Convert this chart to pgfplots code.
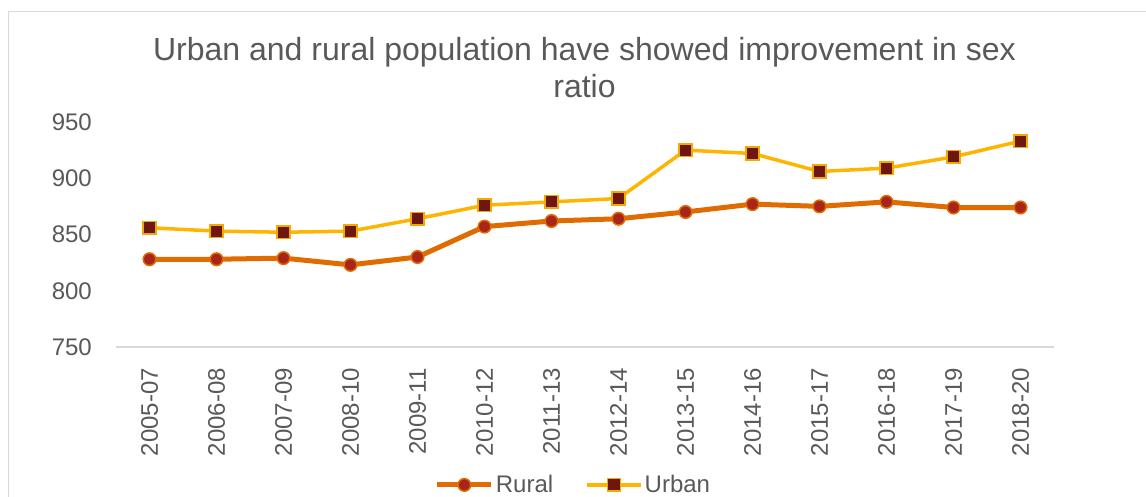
\documentclass[border=0pt]{standalone}
\usepackage{pgfplots}
\pgfplotsset{compat=1.18}
\usepackage{fontspec}
\setmainfont{Liberation Sans}
\definecolor{txtgray}{HTML}{595959}
\definecolor{framegray}{HTML}{D9D9D9}
\definecolor{ruralline}{HTML}{E06B00}
\definecolor{ruralfill}{HTML}{A8251A}
\definecolor{urbanline}{HTML}{FFB500}
\definecolor{urbanfill}{HTML}{6E1610}
\definecolor{urbanedge}{HTML}{F2A900}
\begin{document}
\begin{tikzpicture}[x=1pt,y=1pt]
\useasboundingbox (0,0) rectangle (1146,496);
\clip (0,0) rectangle (1146,496);
\draw[framegray, line width=1.5pt] (8.5,484.5) rectangle (1160,-20);
\node[anchor=base, text=txtgray, font=\fontsize{32}{38}\selectfont, inner sep=0pt] at (584.5,435) {Urban and rural population have showed improvement in sex};
\node[anchor=base, text=txtgray, font=\fontsize{32}{38}\selectfont, inner sep=0pt] at (584.5,398) {ratio};
\begin{axis}[
  at={(116pt,149pt)}, anchor=south west,
  width=938pt, height=225pt, scale only axis,
  xmin=-0.5, xmax=13.5, ymin=750, ymax=950,
  axis x line=bottom, axis y line=left,
  x axis line style={framegray, line width=1.5pt, -},
  y axis line style={draw=none},
  major tick length=0pt,
  xtick={0,...,13},
  xticklabels={2005-07,2006-08,2007-09,2008-10,2009-11,2010-12,2011-13,2012-14,2013-15,2014-16,2015-17,2016-18,2017-19,2018-20},
  ytick={750,800,850,900,950},
  /pgf/number format/assume math mode=true,
  tick label style={font=\fontsize{24}{28}\selectfont, text=txtgray},
  xticklabel style={rotate=90, anchor=east, inner sep=0pt},
  xticklabel shift=21pt,
  yticklabel style={anchor=east, inner sep=0pt},
  yticklabel shift=24pt,
  clip=false,
  legend style={at={(0.4877,-0.613)}, anchor=center, draw=none, fill=none,
    font=\fontsize{24}{28}\selectfont, text=txtgray,
    legend columns=2, /tikz/every even column/.append style={column sep=30pt},
    inner sep=0pt},
  legend cell align=left,
  legend image code/.code={\draw[mark repeat=2,mark phase=2,#1] plot coordinates {(0pt,0pt) (27pt,0pt) (54pt,0pt)};},
]
\addplot[ruralline, line width=5pt, mark=*, mark size=6.3pt,
  mark options={fill=ruralfill, draw=ruralline, line width=1.5pt}]
  coordinates {(0,828) (1,828) (2,829) (3,823) (4,830) (5,857) (6,862) (7,864) (8,870) (9,877) (10,875) (11,879) (12,874) (13,874)};
\addlegendentry{Rural}
\addplot[urbanline, line width=3.5pt, mark=square*, mark size=6.3pt,
  mark options={fill=urbanfill, draw=urbanedge, line width=1.5pt}]
  coordinates {(0,856) (1,853) (2,852) (3,853) (4,864) (5,876) (6,879) (7,882) (8,925) (9,922) (10,906) (11,909) (12,919) (13,933)};
\addlegendentry{Urban}
\end{axis}
\end{tikzpicture}
\end{document}
